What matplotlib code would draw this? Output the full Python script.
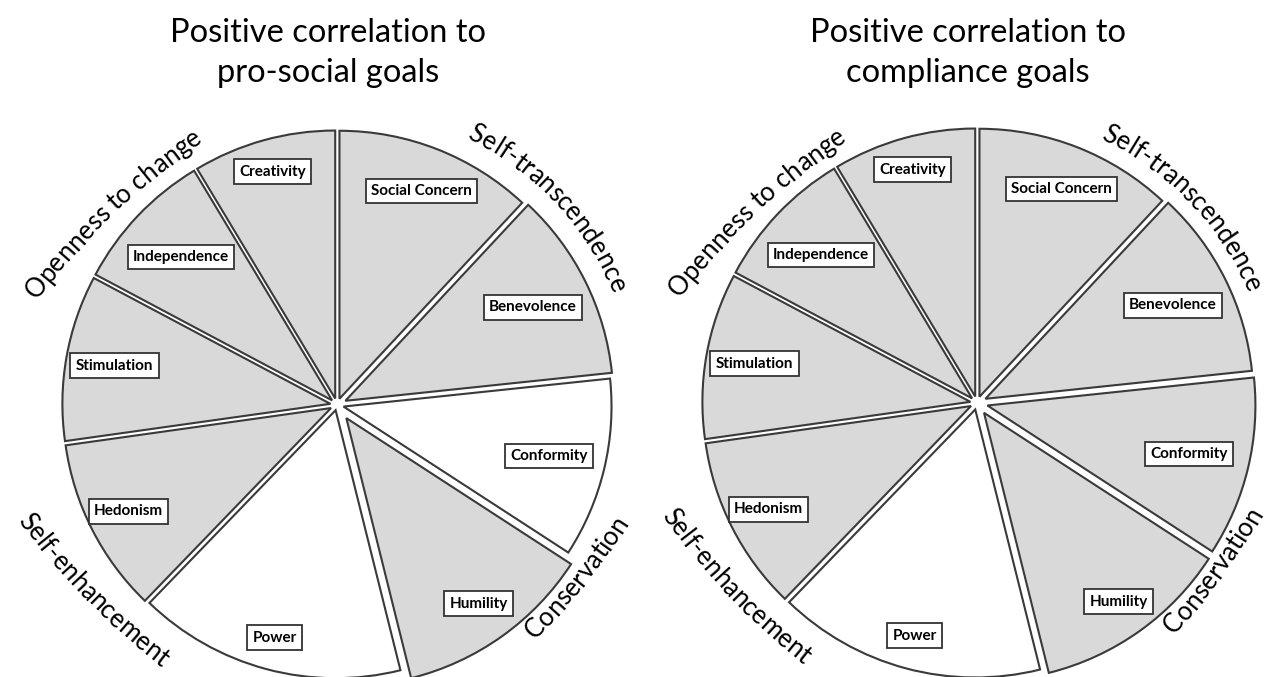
import numpy as np
import matplotlib.pyplot as plt
from matplotlib.font_manager import FontProperties, findfont
from matplotlib.ft2font import FT2Font

FONT = ['Lato', 'DejaVu Sans']

# slices, clockwise from 12 o'clock
names = ["Social Concern", "Benevolence", "Conformity", "Humility", "Power",
         "Hedonism", "Stimulation", "Independence", "Creativity"]
sizes = [43, 41, 39, 43, 58, 38, 36, 31, 31]

# True = positive correlation (grey slice)
prosocial = [True, True, False, True, False, True, True, True, True]
compliance = [True, True, True, True, False, True, True, True, True]

titles = ["Positive correlation to\npro-social goals",
          "Positive correlation to\ncompliance goals"]

groups = ["Self-transcendence", "Conservation", "Self-enhancement", "Openness to change"]

W, H = 1266, 677
R = 268
GREY = '#d9d9d9'
EDGE = '#3a3a3a'
# distance of each label box from the wheel centre (px)
label_r = [230, 219, 218, 244, 241, 234, 226, 215, 242]

fig = plt.figure(figsize=(W / 100, H / 100), dpi=100)
ax = fig.add_axes([0, 0, 1, 1])


def arc_text(s, cx, cy, r, mid, fs, top=True, rc=None, tilt=0):
    # text laid along an arc of radius rc whose middle sits at radius r,
    # the whole line turned by `tilt` degrees about its middle
    rc = rc or r
    fp = FontProperties(family='Lato', size=fs)
    font = FT2Font(findfont(fp))
    font.set_size(fs, 100)
    advs = np.array([font.load_char(ord(ch)).linearHoriAdvance / 65536 for ch in s])
    L = advs.sum()
    pos = np.cumsum(advs) - advs / 2
    m = np.radians(mid)
    mx, my = cx + r * np.cos(m), cy + r * np.sin(m)
    ox, oy = mx - rc * np.cos(m), my - rc * np.sin(m)
    t = np.radians(tilt)
    for ch, p in zip(s, pos):
        if top:
            th = m + L / (2 * rc) - p / rc
            rot = np.degrees(th) - 90
        else:
            th = m - L / (2 * rc) + p / rc
            rot = np.degrees(th) + 90
        dx = ox + rc * np.cos(th) - mx
        dy = oy + rc * np.sin(th) - my
        x = mx + dx * np.cos(t) - dy * np.sin(t)
        y = my + dx * np.sin(t) + dy * np.cos(t)
        ax.text(x, y, ch, rotation=rot + tilt, rotation_mode='anchor',
                ha='center', va='baseline', fontsize=fs, family=FONT, color='black')


def draw_wheel(cx, cy, positive, explode, title, group_pos):
    colors = [GREY if p else 'white' for p in positive]
    wedges, _ = ax.pie(sizes, explode=[e * R for e in explode], colors=colors,
                       startangle=90, counterclock=False, radius=R, center=(cx, cy),
                       wedgeprops=dict(edgecolor=EDGE, linewidth=1.5))
    for w, name, lr in zip(wedges, names, label_r):
        mid = np.radians((w.theta1 + w.theta2) / 2)
        ax.text(cx + lr * np.cos(mid), cy + lr * np.sin(mid), name,
                ha='center', va='center', fontsize=11, fontweight='bold', family=FONT,
                bbox=dict(boxstyle='square,pad=0.35', fc='white', ec='#333333', lw=1.3))

    l1, l2 = title.split('\n')
    ax.text(cx - 9, H - 42, l1, ha='center', va='baseline', fontsize=23.5, family=FONT)
    ax.text(cx - 9, H - 82, l2, ha='center', va='baseline', fontsize=23.5, family=FONT)

    for g, (r, mid, top, rc, tilt) in zip(groups, group_pos):
        arc_text(g, cx, cy, r, mid, 18.5, top, rc, tilt)


draw_wheel(337, H - 405, prosocial,
           [0.025, 0.035, 0.025, 0.06, 0.02, 0.025, 0.025, 0.025, 0.025],
           titles[0],
           [(296, 43, True, 300, 0), (306, -35.8, False, 700, -3),
            (319, 217.5, False, 700, 7), (294, 139.5, True, 700, -6)])

draw_wheel(977, H - 403, compliance,
           [0.025, 0.035, 0.04, 0.045, 0.025, 0.025, 0.025, 0.025, 0.025],
           titles[1],
           [(291, 43.5, True, 300, 0), (300, -35.3, False, 700, -1),
            (316, 217.5, False, 700, 6), (291, 139.1, True, 700, -6)])

ax.set_xlim(0, W)
ax.set_ylim(0, H)
ax.set_aspect('auto')
ax.axis('off')

fig.savefig('out.png', dpi=100, facecolor='white')
